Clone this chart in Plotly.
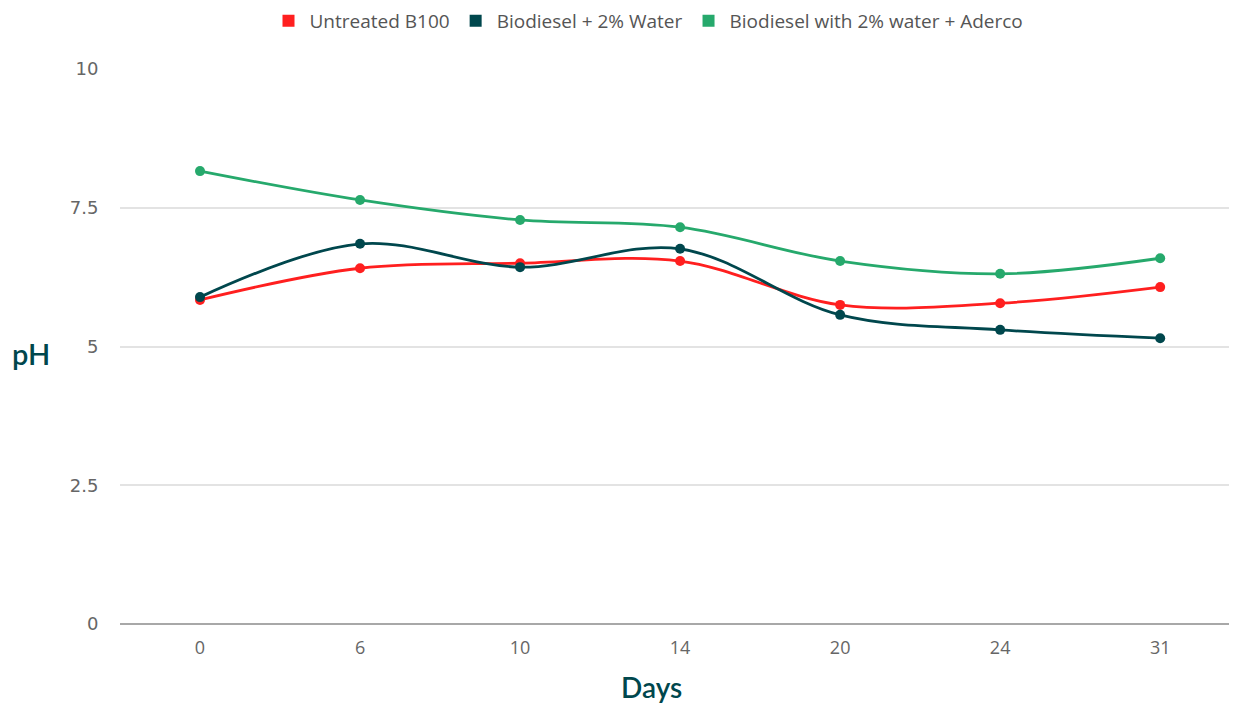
import plotly.graph_objects as go

days = ["0", "6", "10", "14", "20", "24", "31"]
untreated = [5.84, 6.41, 6.50, 6.54, 5.75, 5.78, 6.07]
water2 = [5.89, 6.85, 6.43, 6.76, 5.57, 5.30, 5.15]
aderco = [8.16, 7.64, 7.28, 7.15, 6.54, 6.31, 6.59]

names = ["Untreated B100", "Biodiesel + 2% Water", "Biodiesel with 2% water + Aderco"]
colors = ["#ff1f1f", "#00474d", "#26a96c"]
series = [untreated, water2, aderco]

# page body has an 8px margin; compensate so the plot lands where the reference is
OFF = 8
W, H = 1237 - OFF, 706 - OFF
L, R, T = 120 - OFF, 0, 69 - OFF
B = H - (624 - OFF)
pw, ph = W - L - R, H - T - B


def px_x(x):
    return (x - OFF - L) / pw


def px_y(y):
    return (H - B - (y - OFF)) / ph


fig = go.Figure()
for i in [2, 0, 1]:
    fig.add_trace(go.Scatter(
        x=days, y=series[i], mode="lines+markers", name=names[i],
        line=dict(color=colors[i], width=2.8, shape="spline", smoothing=1.0),
        marker=dict(color=colors[i], size=10),
        showlegend=False,
    ))
for i in range(3):
    fig.add_trace(go.Scatter(
        x=[None], y=[None], mode="markers", name=names[i],
        marker=dict(color=colors[i], size=11, symbol="square"),
        showlegend=True,
    ))

fig.update_layout(
    width=W, height=H,
    margin=dict(l=L, r=R, t=T, b=B, autoexpand=False),
    plot_bgcolor="white", paper_bgcolor="white",
    legend=dict(orientation="h", x=px_x(648), xanchor="center",
                y=px_y(21), yanchor="middle",
                font=dict(family="Open Sans", size=19, color="#555555"),
                itemsizing="constant", traceorder="normal", itemwidth=32),
    xaxis=dict(type="category", range=[-0.5, 6.48], showgrid=False,
               ticks="outside", ticklen=7, tickcolor="rgba(0,0,0,0)",
               tickfont=dict(family="Open Sans", size=18, color="#666666"),
               showline=False, zeroline=False),
    yaxis=dict(range=[0, 10], tickvals=[0, 2.5, 5, 7.5, 10],
               ticktext=["0", "2.5", "5", "7.5", "10"],
               showgrid=True, gridcolor="#e3e3e3", gridwidth=2,
               ticks="outside", ticklen=17, tickcolor="rgba(0,0,0,0)",
               tickfont=dict(family="DejaVu Sans", size=18, color="#666666"),
               zeroline=True, zerolinecolor="#a8a8a8", zerolinewidth=2,
               showline=False),
    annotations=[
        dict(text="pH", xref="paper", yref="paper",
             x=px_x(31), y=px_y(353), xanchor="center", yanchor="middle",
             showarrow=False, font=dict(family="Lato", size=29, color="#00474d", weight=600)),
        dict(text="Days", xref="paper", yref="paper",
             x=px_x(651), y=px_y(687), xanchor="center", yanchor="middle",
             showarrow=False, font=dict(family="Lato", size=28, color="#00474d", weight=600)),
    ],
)

fig.write_html("out.html")
